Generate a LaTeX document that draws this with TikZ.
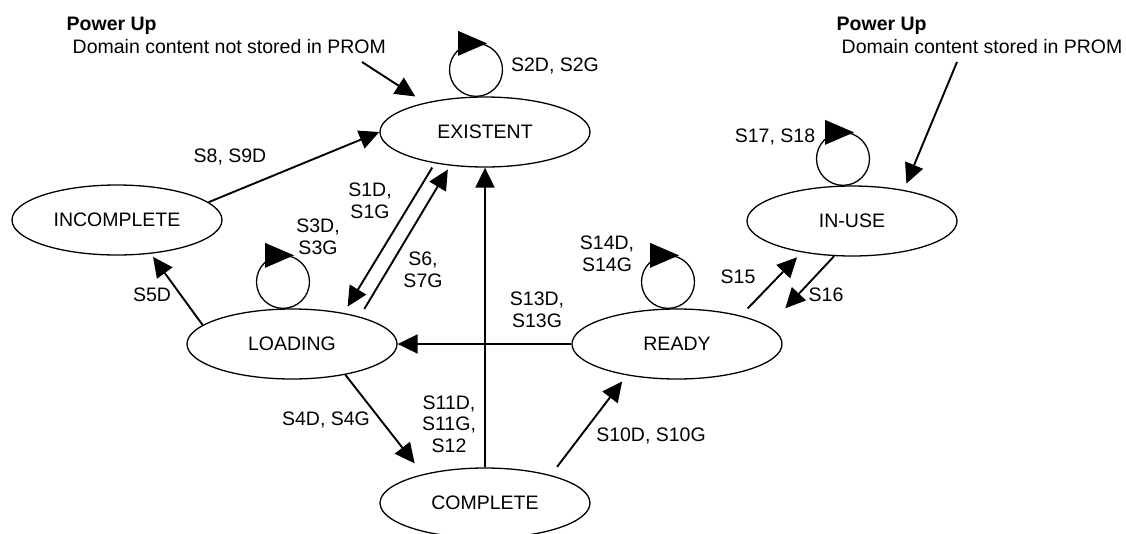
\documentclass[tikz,border=0pt]{standalone}
\usepackage{fontspec}
\setmainfont{Liberation Sans}
\usetikzlibrary{arrows.meta,shapes.geometric}
\begin{document}
\begin{tikzpicture}[x=1pt,y=-1pt,
  every node/.style={font=\fontsize{19.5}{21.5}\selectfont},
  state/.style={ellipse, draw, line width=1.3pt, minimum width=210pt, minimum height=70pt, inner sep=0pt},
  trans/.style={line width=1.9pt, -{Triangle[length=20pt,width=19pt]}},
  lbl/.style={align=center, inner sep=0pt},
  boldlbl/.style={anchor=base west, inner sep=0pt, font=\bfseries\fontsize{19.5}{21.5}\selectfont},
  plainlbl/.style={anchor=base west, inner sep=0pt},
  loopc/.style={line width=1.3pt}
]
\useasboundingbox (0,0) rectangle (1126,533);

% states
\node[state] (exist) at (485,132) {EXISTENT};
\node[state] (inc)   at (117,220) {INCOMPLETE};
\node[state] (load)  at (292,344) {LOADING};
\node[state] (ready) at (677,344) {READY};
\node[state] (inuse) at (852,221) {IN-USE};
\node[state] (comp)  at (485,503) {COMPLETE};

% power up texts
\node[boldlbl]  (pu1)  at (66.5,30) {Power Up};
\node[plainlbl] (pu1t) at (72.5,53) {Domain content not stored in PROM};
\node[boldlbl]  (pu2)  at (836.5,30) {Power Up};
\node[plainlbl] (pu2t) at (841.5,53) {Domain content stored in PROM};

\coordinate (pu1a) at (362,62);
\coordinate (pu2a) at (957,62);
\draw[trans, shorten >=11.4pt] (pu1a) -- (exist.154.6);
\draw[trans, shorten >=6.9pt] (pu2a) -- (inuse.31.4);

% transitions
\draw[trans] (inc.11.4) -- (exist.180);
\draw[trans, shorten <=4.9pt, shorten >=7.4pt] (exist.212) -- (load.31);
\draw[trans, shorten <=8.9pt, shorten >=4.4pt] (load.22.8) -- (exist.224.2);
\draw[trans] (comp.north) -- (exist.south);
\draw[trans] (ready.west) -- (load.east);
\draw[trans, shorten >=3.8pt] (load.168) -- (inc.315.8);
\draw[trans, shorten >=13.6pt] (load.330.5) -- (comp.155.2);
\draw[trans, shorten <=10.4pt, shorten >=7.7pt] (comp.23.6) -- (ready.212.2);
\draw[trans, shorten <=9.9pt, shorten >=6.8pt] (ready.24) -- (inuse.212.9);
\draw[trans, shorten >=24.5pt] (inuse.243.8) -- (ready.11.9);

% self loops
\foreach \n in {exist,load,ready,inuse}{
  \coordinate (\n-lc) at ([xshift=-9pt,yshift=26.5pt]\n.north);
  \draw[loopc] (\n-lc) circle[radius=26.5pt];
  \fill (\n-lc) ++(11,-26.5) -- ++(-29,-12.5) -- ++(0,25) -- cycle;
}

% labels
\node[lbl] (l2)  at (555,66)  {S2D, S2G};
\node[lbl] (l8)  at (230,157) {S8, S9D};
\node[lbl] (l1)  at (370,201) {S1D,\\S1G};
\node[lbl] (l3)  at (318,237) {S3D,\\S3G};
\node[lbl] (l6)  at (423,270) {S6,\\S7G};
\node[lbl] (l5)  at (152,295) {S5D};
\node[lbl] (l13) at (537,310) {S13D,\\S13G};
\node[lbl] (l14) at (607,254) {S14D,\\S14G};
\node[lbl] (l15) at (738,277) {S15};
\node[lbl] (l16) at (826,295) {S16};
\node[lbl] (l17) at (775,137) {S17, S18};
\node[lbl] (l4)  at (326,420) {S4D, S4G};
\node[lbl] (l11) at (449,424) {S11D,\\S11G,\\S12};
\node[lbl] (l10) at (651,436) {S10D, S10G};
\end{tikzpicture}
\end{document}
